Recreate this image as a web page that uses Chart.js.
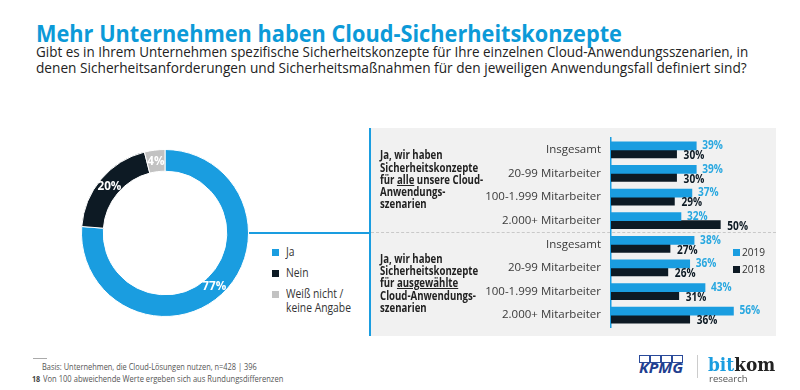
<!DOCTYPE html>
<html><head><meta charset="utf-8">
<script src="https://cdn.jsdelivr.net/npm/chart.js@4.4.1/dist/chart.umd.min.js"></script>
<style>
html,body{margin:0;padding:0;background:#fff;}
#root{position:relative;width:800px;height:390px;overflow:hidden;font-family:'Open Sans',sans-serif;}
.t{position:absolute;white-space:nowrap;line-height:1;transform-origin:0 0;}
.box{position:absolute;}
u{text-decoration-thickness:1px;text-underline-offset:1px;}
</style></head><body>
<div id="root">
  <div class="box" style="left:371px;top:128px;width:405px;height:208px;background:#f1f1f1"></div>
  <div class="box" style="left:369px;top:128px;width:2px;height:208px;background:#1a9de0"></div>
  <div class="box" style="left:249px;top:232px;width:121px;height:1.5px;background:#1a9de0"></div>
  <div class="box" style="left:371px;top:232px;width:405px;height:0;border-top:1px dashed #c9c9c9"></div>
  <canvas id="donut" width="168" height="168" style="position:absolute;left:81px;top:149px;width:168px;height:168px"></canvas>
  <canvas id="bars" width="396" height="208" style="position:absolute;left:380px;top:128px;width:396px;height:208px"></canvas>
</div>
<script>
// ---- data ----
const donutLabels = ['Ja', 'Nein', 'Weiß nicht / keine Angabe'];
const donutValues = [77, 20, 4];
const barCategories = ['Insgesamt', '20-99 Mitarbeiter', '100-1.999 Mitarbeiter', '2.000+ Mitarbeiter',
                       'Insgesamt', '20-99 Mitarbeiter', '100-1.999 Mitarbeiter', '2.000+ Mitarbeiter'];
const seriesLabels = ['2019', '2018'];
const values2019 = [39, 39, 37, 32, 38, 36, 43, 56];
const values2018 = [30, 30, 29, 50, 27, 26, 31, 36];

const BLUE = '#1a9de0', DARK = '#0d1a24', GREY = '#c2c2c2', LABEL_BLUE = '#2aa8e0', TITLE = '#0c9ad8';
const root = document.getElementById('root');
const mctx = document.createElement('canvas').getContext('2d');

function place(html, x, baseline, size, opts = {}) {
  const weight = opts.weight || 400, family = opts.family || "'Open Sans'", style = opts.italic ? 'italic ' : '';
  const el = document.createElement('div');
  el.className = 't';
  el.innerHTML = html;
  el.style.font = `${style}${weight} ${size}px ${family}`;
  el.style.lineHeight = size + 'px';
  el.style.color = opts.color || '#222';
  mctx.font = `${style}${weight} ${size}px ${family}`;
  const m = mctx.measureText('Hxg');
  const asc = m.fontBoundingBoxAscent, desc = m.fontBoundingBoxDescent;
  const top = baseline - (size - (asc + desc)) / 2 - asc;
  el.style.left = x + 'px';
  el.style.top = top + 'px';
  root.appendChild(el);
  let s = opts.scale || 1;
  if (opts.width) s = opts.width / el.offsetWidth;
  el.style.transform = `scaleX(${s})`;
  return s;
}
function sq(x, y, c, w = 7, h = 7) {
  const d = document.createElement('div');
  d.className = 'box';
  d.style.cssText = `left:${x}px;top:${y}px;width:${w}px;height:${h}px;background:${c}`;
  root.appendChild(d);
}

async function main() {
  await Promise.all([
    document.fonts.load("400 11px 'Open Sans'"), document.fonts.load("700 11px 'Open Sans'"),
    document.fonts.load("italic 700 14px 'Open Sans'"), document.fonts.load("700 20px 'DejaVu Serif'")
  ]);

  // title & subtitle
  place('Mehr Unternehmen haben Cloud-Sicherheitskonzepte', 36, 42, 24, {weight: 700, color: TITLE, width: 586});
  place('Gibt es in Ihrem Unternehmen spezifische Sicherheitskonzepte für Ihre einzelnen Cloud-Anwendungsszenarien, in', 36, 57.5, 14, {color: '#222', width: 712});
  place('denen Sicherheitsanforderungen und Sicherheitsmaßnahmen für den jeweiligen Anwendungsfall definiert sind?', 36, 73.5, 14, {color: '#222', width: 711});

  // donut legend
  const legendColors = [BLUE, DARK, GREY];
  const legendBase = [[256], [277], [298, 312]];
  donutLabels.forEach((lab, i) => {
    const lines = lab.split(/(?<=\/) /);
    sq(272, legendBase[i][0] - 7, legendColors[i]);
    lines.forEach((ln, j) => place(ln, 286, legendBase[i][j], 12, {color: '#333', scale: 0.86}));
  });

  // group labels
  const g1 = ['Ja, wir haben', 'Sicherheitskonzepte', 'für <u>alle</u> unsere Cloud-', 'Anwendungs-', 'szenarien'];
  const g2 = ['Ja, wir haben', 'Sicherheitskonzepte', 'für <u>ausgewählte</u>', 'Cloud-Anwendungs-', 'szenarien'];
  const b1 = [159, 172, 184.5, 196.5, 208.5], b2 = [263, 275.3, 287.5, 300, 312.3];
  let gs = place(g1[1], 380, b1[1], 11.5, {weight: 700, color: '#222', width: 98});
  g1.forEach((t, i) => { if (i !== 1) place(t, 380, b1[i], 11.5, {weight: 700, color: '#222', scale: gs}); });
  g2.forEach((t, i) => place(t, 380, b2[i], 11.5, {weight: 700, color: '#222', scale: gs}));

  // bar legend
  sq(733, 249, BLUE); place(seriesLabels[0], 742, 256, 11, {color: '#333', scale: 0.92});
  sq(733, 266, DARK); place(seriesLabels[1], 742, 273, 11, {color: '#333', scale: 0.92});

  // footer
  const ln = document.createElement('div'); ln.className = 'box';
  ln.style.cssText = 'left:33px;top:358px;width:14px;height:1px;background:#aaa'; root.appendChild(ln);
  place('Basis: Unternehmen, die Cloud-Lösungen nutzen, n=428 | 396', 42, 370, 9, {color: '#555', width: 215});
  place('18', 32, 381.5, 9, {weight: 700, color: '#444', scale: 0.8});
  place('Von 100 abweichende Werte ergeben sich aus Rundungsdifferenzen', 43, 381.5, 9, {color: '#555', width: 240});

  // logos (as text)
  for (let i = 0; i < 4; i++) {
    const d = document.createElement('div'); d.className = 'box';
    d.style.cssText = `left:${639 + i * 11}px;top:355px;width:9px;height:6px;border:1px solid #2a4a9a`;
    root.appendChild(d);
  }
  place('KPMG', 639, 373, 14, {weight: 700, italic: true, color: '#1f3e8f', width: 44});
  const sep = document.createElement('div'); sep.className = 'box';
  sep.style.cssText = 'left:697px;top:355px;width:1px;height:23px;background:#ccc'; root.appendChild(sep);
  place('<span style="color:#1a9de0">bit</span>kom', 708, 371, 19, {family: "'DejaVu Serif'", weight: 700, color: '#222', width: 67});
  place('research', 709, 382, 9, {color: '#555', width: 39});

  // donut
  const donutText = {
    id: 'donutText',
    afterDatasetsDraw(chart) {
      const ctx = chart.ctx, meta = chart.getDatasetMeta(0);
      ctx.save();
      ctx.font = "700 13px 'Open Sans'"; ctx.fillStyle = '#fff';
      ctx.textAlign = 'center'; ctx.textBaseline = 'middle';
      meta.data.forEach((arc, i) => {
        const p = arc.tooltipPosition();
        ctx.save(); ctx.translate(p.x, p.y); ctx.scale(0.9, 1);
        ctx.fillText(donutValues[i] + '%', 0, 0); ctx.restore();
      });
      ctx.restore();
    }
  };
  new Chart(document.getElementById('donut'), {
    type: 'doughnut',
    data: {labels: donutLabels, datasets: [{data: donutValues, backgroundColor: legendColors, borderColor: '#fff', borderWidth: 1}]},
    options: {responsive: false, animation: false, events: [], cutout: '74%', layout: {padding: 0},
      plugins: {legend: {display: false}, tooltip: {enabled: false}}},
    plugins: [donutText]
  });

  // bars
  function drawLabels(chart, di) {
    const meta = chart.getDatasetMeta(di), ctx = chart.ctx, ds = chart.data.datasets[di];
    ctx.save();
    ctx.font = "700 11.5px 'Open Sans'";
    ctx.fillStyle = di === 0 ? LABEL_BLUE : DARK;
    ctx.textAlign = 'left'; ctx.textBaseline = 'middle';
    meta.data.forEach((bar, i) => {
      const x = bar.x + (di === 0 ? 6 : 7), y = bar.y + (di === 0 ? 0 : 2);
      ctx.save(); ctx.translate(x, y); ctx.scale(0.88, 1);
      ctx.fillText(ds.data[i] + '%', 0, 0); ctx.restore();
    });
    ctx.restore();
  }
  const barLabels = {
    id: 'barLabels',
    beforeDatasetsDraw(chart) { drawLabels(chart, 0); },
    afterDatasetsDraw(chart) { drawLabels(chart, 1); }
  };
  new Chart(document.getElementById('bars'), {
    type: 'bar',
    data: {labels: barCategories, datasets: [
      {label: seriesLabels[0], data: values2019, backgroundColor: BLUE, barThickness: 8},
      {label: seriesLabels[1], data: values2018, backgroundColor: DARK, barThickness: 8}
    ]},
    options: {
      indexAxis: 'y', responsive: false, animation: false, events: [],
      layout: {padding: {top: 10, bottom: 9, left: 0, right: 1}},
      scales: {
        x: {display: false, min: 0, max: 75},
        y: {grid: {display: false, drawTicks: false}, border: {display: true, color: BLUE, width: 1.5},
            ticks: {padding: 10, color: '#3a3a3a', font: {family: "'Open Sans'", size: 11.5}},
            afterFit(s) { s.width = 231; s.paddingTop = 0; s.paddingBottom = 0; }}
      },
      plugins: {legend: {display: false}, tooltip: {enabled: false}}
    },
    plugins: [barLabels]
  });
}
main();
</script>
</body></html>
